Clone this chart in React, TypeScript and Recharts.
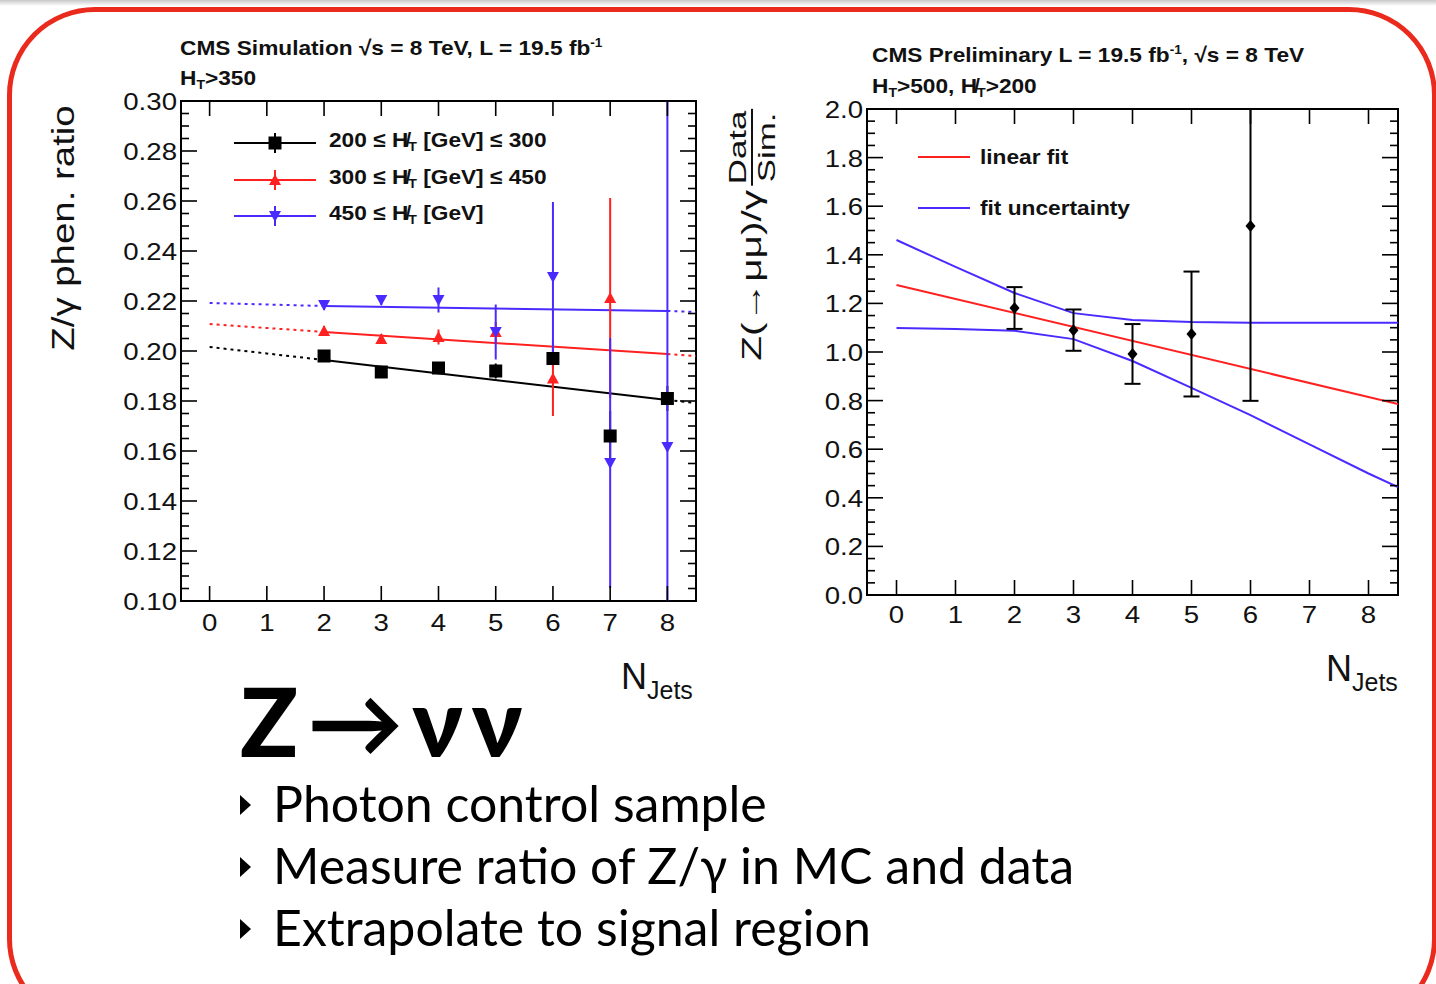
import React from "react";
import { ComposedChart, Line, Scatter, XAxis, YAxis, ErrorBar, ReferenceArea } from "recharts";

// left plot: Z/gamma phenomenological ratio vs N_jets, three HT bins
const nJets = [2, 3, 4, 5, 6, 7, 8];
const ratioHt200 = [0.198, 0.1916, 0.1932, 0.192, 0.197, 0.166, 0.181];
const errHt200 = [0.002, 0.002, 0.002, 0.003, 0.004, 0.01, 0.005];
const nJetsHt300 = [2, 3, 4, 5, 6, 7];
const ratioHt300 = [0.208, 0.2048, 0.2056, 0.2076, 0.189, 0.2212];
const errHt300 = [0.002, 0.002, 0.003, 0.004, 0.015, 0.04];
const ratioHt450 = [0.2184, 0.2204, 0.2204, 0.2076, 0.2296, 0.1552, 0.1616];
const errHt450 = [0.002, 0.002, 0.005, 0.011, 0.03, 0.05, 0.2];

// fit lines: dotted 0..2, solid 2..8, dotted 8..8.5
const fitX = [0, 2, 8, 8.5];
const fitHt200 = [0.2016, 0.1964, 0.1804, 0.1792];
const fitHt300 = [0.2108, 0.2076, 0.1988, 0.198];
const fitHt450 = [0.2192, 0.218, 0.216, 0.2156];

// right plot: data/sim double ratio
const ratioX = [2, 3, 4, 5, 6];
const dataSim = [1.181, 1.09, 0.992, 1.074, 1.519];
const dataSimErr = [0.086, 0.085, 0.123, 0.257, 0.72];
const linFitX = [0, 8.5];
const linFit = [1.276, 0.786];
const bandX = [0, 1, 2, 3, 4, 5, 6, 7, 8, 8.5];
const bandUp = [1.461, 1.35, 1.243, 1.16, 1.132, 1.123, 1.12, 1.12, 1.12, 1.12];
const bandDown = [1.099, 1.095, 1.087, 1.053, 0.963, 0.852, 0.74, 0.62, 0.5, 0.444];

const xTicks = [0, 1, 2, 3, 4, 5, 6, 7, 8];
const leftYMajor = [0.1, 0.12, 0.14, 0.16, 0.18, 0.2, 0.22, 0.24, 0.26, 0.28, 0.3];
const rightYMajor = [0, 0.2, 0.4, 0.6, 0.8, 1.0, 1.2, 1.4, 1.6, 1.8, 2.0];

const RED = "#ff2020";
const BLUE = "#4a2bff";
const AX = "Liberation Sans, Arial, sans-serif";
const SLIDE = "Lato, 'DejaVu Sans', sans-serif";

const withMinor = (majors: number[], n: number) => {
  const out: number[] = [];
  for (let i = 0; i < majors.length; i++) {
    out.push(majors[i]);
    if (i < majors.length - 1) {
      const step = (majors[i + 1] - majors[i]) / (n + 1);
      for (let k = 1; k <= n; k++) out.push(+(majors[i] + k * step).toFixed(4));
    }
  }
  return out;
};

// points use n / v keys (scatter overwrites x, y with pixel positions)
const pts = (xs: number[], ys: number[], es?: number[]) =>
  xs.map((n, i) => ({ n, v: ys[i], err: es ? es[i] : 0 }));
const seg = (xs: number[], ys: number[], a: number, b: number) =>
  xs.slice(a, b + 1).map((n, i) => ({ n, v: ys[a + i] }));

// error bars are cut at the frame, like the clipped ROOT drawing
const clipErr = (lo: number, hi: number) => (d: any) => [
  Math.min(d.err, d.v - lo),
  Math.min(d.err, hi - d.v),
];

const isMajor = (v: number, majors: number[]) => majors.some((m) => Math.abs(m - v) < 1e-6);

const makeYTick = (plotW: number, majors: number[], digits: number) => (p: any) => {
  const { x, y, payload } = p;
  const major = isMajor(payload.value, majors);
  const len = major ? 16 : 8;
  return (
    <g>
      <line x1={x} x2={x + len} y1={y} y2={y} stroke="#000" strokeWidth={1.6} />
      <line x1={x + plotW - len} x2={x + plotW} y1={y} y2={y} stroke="#000" strokeWidth={1.6} />
      {major && (
        <text
          transform={`translate(${x - 4},${y + 9}) scale(1.15,1)`}
          textAnchor="end"
          fontSize={24}
          fontFamily={AX}
          fill="#111"
        >
          {payload.value.toFixed(digits)}
        </text>
      )}
    </g>
  );
};

const makeXTick = (plotH: number, labelDy: number) => (p: any) => {
  const { x, y, payload } = p;
  return (
    <g>
      <line x1={x} x2={x} y1={y} y2={y - 15} stroke="#000" strokeWidth={1.6} />
      <line x1={x} x2={x} y1={y - plotH} y2={y - plotH + 15} stroke="#000" strokeWidth={1.6} />
      <text
        transform={`translate(${x},${y + labelDy}) scale(1.15,1)`}
        textAnchor="middle"
        fontSize={24}
        fontFamily={AX}
        fill="#111"
      >
        {payload.value}
      </text>
    </g>
  );
};

const square = (p: any) => <rect x={p.cx - 6.5} y={p.cy - 6.5} width={13} height={13} fill="#000" />;
const triUp = (p: any) => (
  <polygon points={`${p.cx - 6},${p.cy + 5} ${p.cx + 6},${p.cy + 5} ${p.cx},${p.cy - 6}`} fill={RED} />
);
const triDown = (p: any) => (
  <polygon points={`${p.cx - 6},${p.cy - 5} ${p.cx + 6},${p.cy - 5} ${p.cx},${p.cy + 6}`} fill={BLUE} />
);
const diamond = (p: any) => (
  <polygon points={`${p.cx},${p.cy - 6} ${p.cx + 5},${p.cy} ${p.cx},${p.cy + 6} ${p.cx - 5},${p.cy}`} fill="#000" />
);

const fitLines = (ys: number[], color: string, key: string) => [
  <Line key={key + "a"} data={seg(fitX, ys, 0, 1)} dataKey="v" type="linear" stroke={color} strokeWidth={2}
    strokeDasharray="3 4" dot={false} activeDot={false} isAnimationActive={false} />,
  <Line key={key + "b"} data={seg(fitX, ys, 1, 2)} dataKey="v" type="linear" stroke={color} strokeWidth={2}
    dot={false} activeDot={false} isAnimationActive={false} />,
  <Line key={key + "c"} data={seg(fitX, ys, 2, 3)} dataKey="v" type="linear" stroke={color} strokeWidth={2}
    strokeDasharray="3 4" dot={false} activeDot={false} isAnimationActive={false} />,
];

const Ht = ({ slash }: { slash?: boolean }) => (
  <span>
    {slash ? "H\u0338" : "H"}
    <sub style={{ fontSize: "0.62em", verticalAlign: "-0.3em" }}>T</sub>
  </span>
);

const abs = (left: number, top: number, extra: React.CSSProperties = {}): React.CSSProperties => ({
  position: "absolute",
  left,
  top,
  whiteSpace: "nowrap",
  ...extra,
});

const titleStyle: React.CSSProperties = {
  fontFamily: AX,
  fontWeight: "bold",
  fontSize: 21,
  lineHeight: "24px",
  color: "#111",
  transform: "scaleX(1.08)",
  transformOrigin: "left center",
};

const LegendMark = ({ kind }: { kind: string }) => {
  const color = kind === "sq" ? "#000" : kind === "up" ? RED : BLUE;
  return (
    <svg width={82} height={26} style={{ display: "block" }}>
      <line x1={0} x2={82} y1={13} y2={13} stroke={color} strokeWidth={2} />
      <line x1={41} x2={41} y1={3} y2={23} stroke={color} strokeWidth={2} />
      {kind === "sq" && <rect x={34.5} y={6.5} width={13} height={13} fill="#000" />}
      {kind === "up" && <polygon points="35,18 47,18 41,7" fill={RED} />}
      {kind === "down" && <polygon points="35,8 47,8 41,19" fill={BLUE} />}
    </svg>
  );
};

const LeftPlot = () => (
  <ComposedChart width={620} height={600} margin={{ top: 41, right: 24, bottom: 19, left: 0 }}>
    <XAxis type="number" dataKey="n" domain={[-0.5, 8.5]} ticks={xTicks} interval={0} allowDataOverflow
      axisLine={false} tickLine={false} tickSize={0} tickMargin={0} height={40} tick={makeXTick(500, 30)} />
    <YAxis type="number" dataKey="v" domain={[0.1, 0.3]} ticks={withMinor(leftYMajor, 3)} interval={0}
      allowDataOverflow axisLine={false} tickLine={false} tickSize={0} tickMargin={0} width={81}
      tick={makeYTick(515, leftYMajor, 2)} />
    {fitLines(fitHt200, "#000", "k")}
    {fitLines(fitHt300, RED, "r")}
    {fitLines(fitHt450, BLUE, "b")}
    <Scatter data={pts(nJets, ratioHt200, errHt200)} dataKey="v" shape={square} isAnimationActive={false}>
      <ErrorBar dataKey={clipErr(0.1, 0.3)} direction="y" width={0} stroke="#000" strokeWidth={2} />
    </Scatter>
    <Scatter data={pts(nJetsHt300, ratioHt300, errHt300)} dataKey="v" shape={triUp} isAnimationActive={false}>
      <ErrorBar dataKey={clipErr(0.1, 0.3)} direction="y" width={0} stroke={RED} strokeWidth={2} />
    </Scatter>
    <Scatter data={pts(nJets, ratioHt450, errHt450)} dataKey="v" shape={triDown} isAnimationActive={false}>
      <ErrorBar dataKey={clipErr(0.1, 0.3)} direction="y" width={0} stroke={BLUE} strokeWidth={2} />
    </Scatter>
    <ReferenceArea x1={-0.5} x2={8.5} y1={0.1} y2={0.3} fill="none" stroke="#000" strokeWidth={2} />
  </ComposedChart>
);

const RightPlot = () => (
  <ComposedChart width={640} height={600} margin={{ top: 39, right: 32, bottom: 35, left: 0 }}>
    <XAxis type="number" dataKey="n" domain={[-0.5, 8.5]} ticks={xTicks} interval={0} allowDataOverflow
      axisLine={false} tickLine={false} tickSize={0} tickMargin={0} height={40} tick={makeXTick(486, 28)} />
    <YAxis type="number" dataKey="v" domain={[0, 2]} ticks={withMinor(rightYMajor, 3)} interval={0}
      allowDataOverflow axisLine={false} tickLine={false} tickSize={0} tickMargin={0} width={77}
      tick={makeYTick(531, rightYMajor, 1)} />
    <Line data={pts(bandX, bandUp)} dataKey="v" type="linear" stroke={BLUE} strokeWidth={2} dot={false}
      activeDot={false} isAnimationActive={false} />
    <Line data={pts(bandX, bandDown)} dataKey="v" type="linear" stroke={BLUE} strokeWidth={2} dot={false}
      activeDot={false} isAnimationActive={false} />
    <Line data={pts(linFitX, linFit)} dataKey="v" type="linear" stroke={RED} strokeWidth={2} dot={false}
      activeDot={false} isAnimationActive={false} />
    <Scatter data={pts(ratioX, dataSim, dataSimErr)} dataKey="v" shape={diamond} isAnimationActive={false}>
      <ErrorBar dataKey={clipErr(0, 2)} direction="y" width={8} stroke="#000" strokeWidth={2} />
    </Scatter>
    <ReferenceArea x1={-0.5} x2={8.5} y1={0} y2={2} fill="none" stroke="#000" strokeWidth={2} />
  </ComposedChart>
);

const leftLegend = [
  { kind: "sq", lo: "200", hi: "300", y: 140 },
  { kind: "up", lo: "300", hi: "450", y: 177 },
  { kind: "down", lo: "450", hi: "", y: 213 },
];

const bullets = ["Photon control sample", "Measure ratio of Z/γ in MC and data", "Extrapolate to signal region"];

export default function App() {
  return (
    <div style={{ position: "absolute", left: 0, top: 0, width: 1436, height: 984, overflow: "hidden", background: "#fff" }}>
      <div style={{ position: "absolute", left: 0, top: 0, width: 1436, height: 6, background: "linear-gradient(#c8c8c8, #fff)" }} />
      <div
        style={{
          position: "absolute",
          left: 7,
          top: 7,
          width: 1420,
          height: 1010,
          border: "5px solid #ea2a1c",
          borderRadius: 88,
        }}
      />

      {/* left plot */}
      <div style={abs(180, 31, titleStyle)}>
        CMS Simulation √s = 8 TeV, L = 19.5 fb<sup style={{ fontSize: "0.6em" }}>-1</sup>
      </div>
      <div style={abs(180, 66, titleStyle)}>
        <Ht />&gt;350
      </div>
      <div style={abs(100, 60)}>
        <LeftPlot />
      </div>
      <div
        style={abs(63 - 160, 228 - 22, {
          width: 320,
          height: 44,
          lineHeight: "44px",
          textAlign: "center",
          fontFamily: AX,
          fontSize: 32,
          color: "#111",
          transform: "rotate(-90deg) scaleX(1.2)",
        })}
      >
        Z/γ phen. ratio
      </div>
      {leftLegend.map((r) => (
        <div key={r.kind} style={abs(234, r.y - 10, { display: "flex", alignItems: "center", height: 26 })}>
          <LegendMark kind={r.kind} />
          <span style={{ ...titleStyle, marginLeft: 13 }}>
            {r.lo} ≤ <Ht slash /> [GeV]{r.hi ? ` ≤ ${r.hi}` : ""}
          </span>
        </div>
      ))}
      <div style={abs(621, 659, { fontFamily: AX, fontSize: 36, lineHeight: 1, color: "#111" })}>
        N<span style={{ fontSize: 25, position: "relative", top: 10 }}>Jets</span>
      </div>

      {/* right plot */}
      <div style={abs(872, 38, titleStyle)}>
        CMS Preliminary L = 19.5 fb<sup style={{ fontSize: "0.6em" }}>-1</sup>, √s = 8 TeV
      </div>
      <div style={abs(872, 74, titleStyle)}>
        <Ht />&gt;500, <Ht slash />&gt;200
      </div>
      <div style={abs(790, 70)}>
        <RightPlot />
      </div>
      <div
        style={abs(752 - 150, 235 - 40, {
          width: 300,
          height: 80,
          display: "flex",
          alignItems: "center",
          justifyContent: "center",
          fontFamily: AX,
          color: "#111",
          transform: "rotate(-90deg) scaleX(1.45)",
        })}
      >
        <span style={{ fontSize: 28 }}>Z(→μμ)/γ</span>
        <span style={{ display: "inline-flex", flexDirection: "column", alignItems: "center", marginLeft: 3, fontSize: 24, lineHeight: "27px" }}>
          <span style={{ borderBottom: "2px solid #111", padding: "0 1px" }}>Data</span>
          <span>Sim.</span>
        </span>
      </div>
      <div style={abs(918, 157 - 13, { display: "flex", alignItems: "center", height: 26 })}>
        <svg width={52} height={26}><line x1={0} x2={52} y1={13} y2={13} stroke={RED} strokeWidth={2} /></svg>
        <span style={{ ...titleStyle, marginLeft: 10 }}>linear fit</span>
      </div>
      <div style={abs(918, 208 - 13, { display: "flex", alignItems: "center", height: 26 })}>
        <svg width={52} height={26}><line x1={0} x2={52} y1={13} y2={13} stroke={BLUE} strokeWidth={2} /></svg>
        <span style={{ ...titleStyle, marginLeft: 10 }}>fit uncertainty</span>
      </div>
      <div style={abs(1326, 651, { fontFamily: AX, fontSize: 36, lineHeight: 1, color: "#111" })}>
        N<span style={{ fontSize: 25, position: "relative", top: 10 }}>Jets</span>
      </div>

      {/* slide text */}
      <div style={abs(240, 672, { fontFamily: SLIDE, fontWeight: 900, fontSize: 96, lineHeight: "96px", color: "#000", letterSpacing: 9 })}>
        Z<span style={{ fontWeight: 700 }}>→</span>νν
      </div>
      {bullets.map((b, i) => (
        <div key={b} style={abs(240, 772 + i * 62, { height: 62, display: "flex", alignItems: "center", fontFamily: SLIDE, fontSize: 50, lineHeight: "62px", color: "#000" })}>
          <span style={{ display: "inline-block", width: 0, height: 0, borderLeft: "11px solid #000", borderTop: "10px solid transparent", borderBottom: "10px solid transparent", marginRight: 22, position: "relative", top: 2 }} />
          <span>{b}</span>
        </div>
      ))}
    </div>
  );
}
